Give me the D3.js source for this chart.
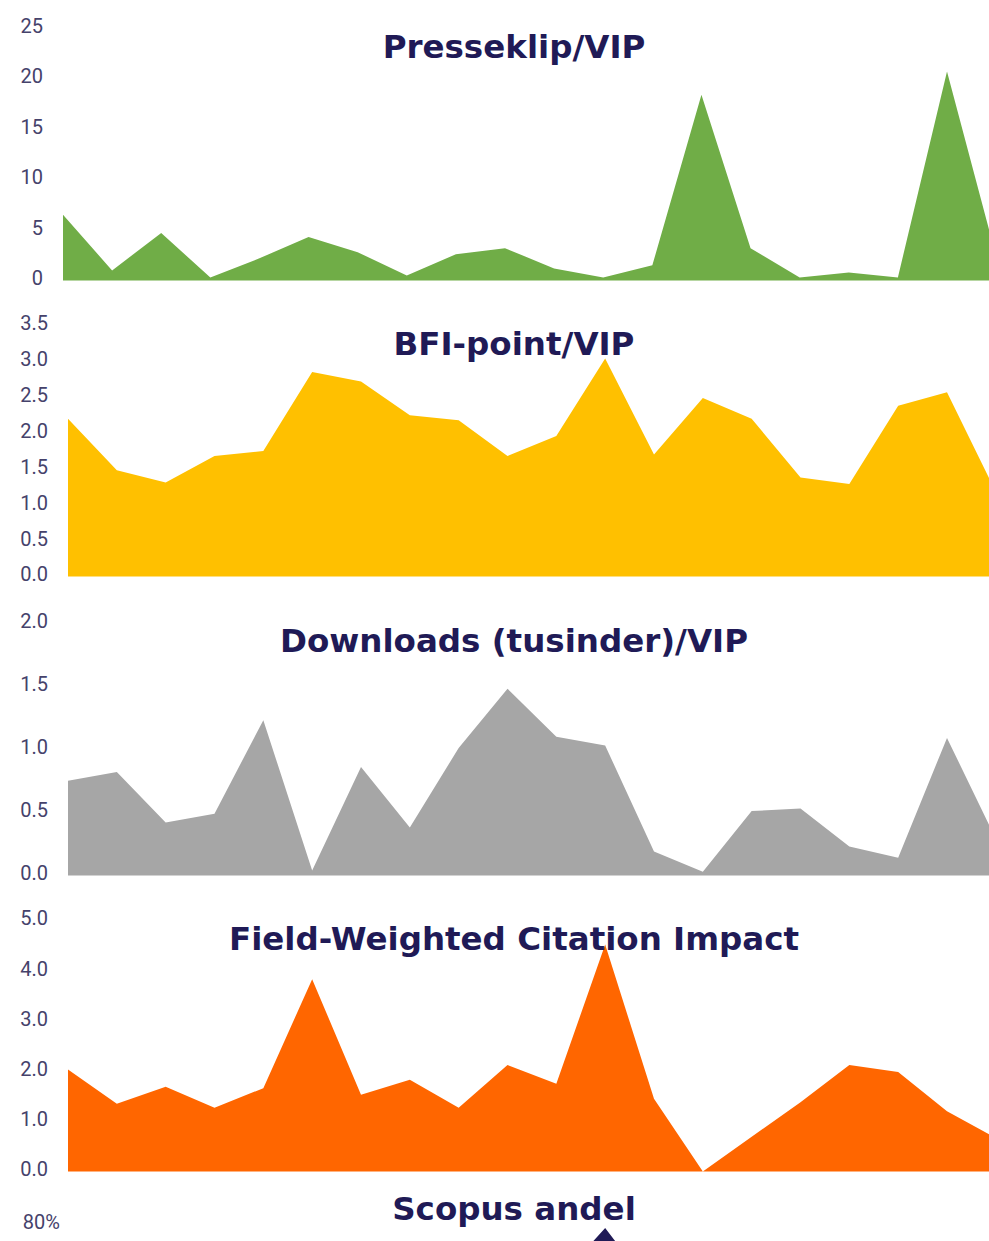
<!DOCTYPE html>
<html>
<head>
<meta charset="utf-8">
<script src="https://cdn.jsdelivr.net/npm/d3@7"></script>
<style>
  body { margin: 0; background: #fff; overflow: hidden; }
  .tick text { font-family: Roboto, "Liberation Sans", sans-serif; font-size: 20px; fill: #45426b; }
  .title { font-family: "DejaVu Sans", sans-serif; font-weight: bold; font-size: 32.5px; fill: #201a56; }
</style>
</head>
<body>
<div id="chart"></div>
<script>
// 20 periods along the x axis
var periods = d3.range(20);

var presseklip = [6.5, 1.0, 4.7, 0.3, 2.2, 4.3, 2.8, 0.5, 2.6, 3.2, 1.2, 0.3, 1.5, 18.4, 3.2, 0.3, 0.8, 0.3, 20.7, 2.4];
var bfiPoint   = [2.20, 1.48, 1.31, 1.68, 1.75, 2.85, 2.72, 2.25, 2.18, 1.68, 1.96, 3.04, 1.70, 2.49, 2.20, 1.38, 1.29, 2.38, 2.57, 1.18];
var downloads  = [0.75, 0.82, 0.42, 0.49, 1.23, 0.04, 0.86, 0.38, 1.01, 1.48, 1.10, 1.03, 0.19, 0.03, 0.51, 0.53, 0.23, 0.14, 1.09, 0.29];
var fwci       = [2.03, 1.35, 1.69, 1.27, 1.66, 3.83, 1.53, 1.83, 1.27, 2.12, 1.75, 4.52, 1.45, 0.0, 0.69, 1.38, 2.12, 1.98, 1.20, 0.67];
var scopus     = [0.60, 0.55, 0.58, 0.52, 0.56, 0.62, 0.57, 0.55, 0.60, 0.63, 0.57, 0.786, 0.53, 0.50, 0.55, 0.58, 0.56, 0.54, 0.60, 0.57];

var presseTicks = [0, 5, 10, 15, 20, 25];
var bfiTicks    = [0, 0.5, 1, 1.5, 2, 2.5, 3, 3.5];
var dlTicks     = [0, 0.5, 1, 1.5, 2];
var fwciTicks   = [0, 1, 2, 3, 4, 5];
var scopusTicks = [0.8];   // only the top tick is inside the picture

var width = 989, height = 1241;

var svg = d3.select("#chart")
  .append("svg")
    .attr("width", width)
    .attr("height", height);

var panels = [
  {title: "Presseklip/VIP", values: presseklip, ticks: presseTicks, fmt: d3.format("d"), color: "#70ad47",
   max: 25, base: 280.5, top: 28, x0: 63, labelX: 43, titleY: 58},
  {title: "BFI-point/VIP", values: bfiPoint, ticks: bfiTicks, fmt: d3.format(".1f"), color: "#ffc000",
   max: 3.5, base: 576.5, top: 325.5, x0: 68, labelX: 48, titleY: 355},
  {title: "Downloads (tusinder)/VIP", values: downloads, ticks: dlTicks, fmt: d3.format(".1f"), color: "#a6a6a6",
   max: 2, base: 875.5, top: 623, x0: 68, labelX: 48, titleY: 652},
  {title: "Field-Weighted Citation Impact", values: fwci, ticks: fwciTicks, fmt: d3.format(".1f"), color: "#ff6600",
   max: 5, base: 1171.5, top: 920.5, x0: 68, labelX: 48, titleY: 950},
  {title: "Scopus andel", values: scopus, ticks: scopusTicks, fmt: d3.format(".0%"), color: "#201a56",
   max: 0.8, base: 1424.5, top: 1224.5, x0: 68, labelX: 60, titleY: 1220}
];

panels.forEach(function(p) {
  var x = d3.scaleLinear()
    .domain([0, 18])
    .range([p.x0, 947]);

  var y = d3.scaleLinear()
    .domain([0, p.max])
    .range([p.base, p.top]);

  var g = svg.append("g");

  var area = d3.area()
    .x(function(d, i) { return x(periods[i]); })
    .y0(y(0))
    .y1(function(d) { return y(d); });

  g.append("path")
    .datum(p.values)
    .attr("d", area)
    .style("fill", p.color);

  var axis = g.append("g")
    .attr("transform", "translate(" + p.labelX + ",0)")
    .call(d3.axisLeft(y).tickValues(p.ticks).tickFormat(p.fmt).tickSize(0).tickPadding(0));
  axis.select(".domain").remove();
  axis.selectAll("text").attr("dy", "0.22em");

  g.append("text")
    .attr("class", "title")
    .attr("x", 514)
    .attr("y", p.titleY)
    .attr("text-anchor", "middle")
    .text(p.title);
});
</script>
</body>
</html>
